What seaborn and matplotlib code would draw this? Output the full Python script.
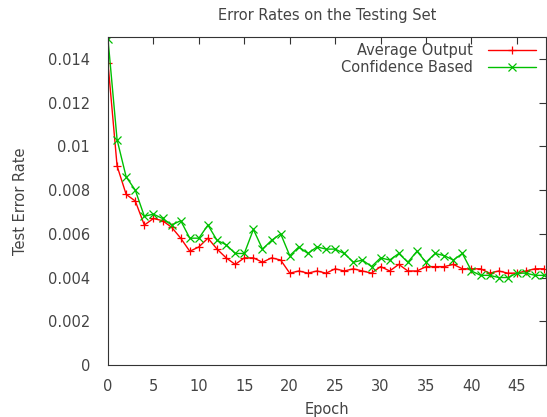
import matplotlib
matplotlib.use("Agg")
import matplotlib.pyplot as plt
import seaborn as sns
import pandas as pd
import numpy as np
from matplotlib.ticker import MultipleLocator, FuncFormatter
from matplotlib.lines import Line2D

epochs = list(range(49))
average_output = [0.0138, 0.0091, 0.0078, 0.0075, 0.0064, 0.0067, 0.0066, 0.0063, 0.0058, 0.0052,
                  0.0054, 0.0058, 0.0053, 0.0049, 0.0046, 0.0049, 0.0049, 0.0047, 0.0049, 0.0048,
                  0.0042, 0.0043, 0.0042, 0.0043, 0.0042, 0.0044, 0.0043, 0.0044, 0.0043, 0.0042,
                  0.0045, 0.0043, 0.0046, 0.0043, 0.0043, 0.0045, 0.0045, 0.0045, 0.0046, 0.0044,
                  0.0044, 0.0044, 0.0042, 0.0043, 0.0042, 0.0042, 0.0043, 0.0044, 0.0044]
confidence_based = [0.0149, 0.0103, 0.0086, 0.0080, 0.0068, 0.0069, 0.0067, 0.0064, 0.0066, 0.0058,
                    0.0058, 0.0064, 0.0057, 0.0055, 0.0051, 0.0051, 0.0062, 0.0053, 0.0057, 0.0060,
                    0.0050, 0.0054, 0.0051, 0.0054, 0.0053, 0.0053, 0.0051, 0.0047, 0.0048, 0.0045,
                    0.0049, 0.0048, 0.0051, 0.0047, 0.0052, 0.0047, 0.0051, 0.0050, 0.0048, 0.0051,
                    0.0043, 0.0041, 0.0041, 0.0040, 0.0040, 0.0042, 0.0042, 0.0041, 0.0041]
series_names = ["Average Output", "Confidence Based"]

df = pd.DataFrame({
    "Epoch": epochs * 2,
    "Test Error Rate": average_output + confidence_based,
    "Series": [series_names[0]] * len(epochs) + [series_names[1]] * len(epochs),
})

sns.set_style("white")
plt.rcParams['font.family'] = ['DejaVu Sans']

fig = plt.figure(figsize=(5.47, 4.17), dpi=100)
ax = fig.add_axes([108 / 547, 52 / 417, 438 / 547, 328 / 417])

colors = ["#ff0000", "#00c000"]
palette = dict(zip(series_names, colors))
sns.lineplot(data=df, x="Epoch", y="Test Error Rate", hue="Series", style="Series",
             palette=palette, markers={series_names[0]: "+", series_names[1]: "x"},
             dashes=False, linewidth=1, markersize=5.5, ax=ax, legend=False)
for line in ax.lines:
    line.set_markeredgecolor(line.get_color())
    line.set_markeredgewidth(0.9)

ax.set_xlim(0, 48.2)
ax.set_ylim(0, 0.015)
ax.xaxis.set_major_locator(MultipleLocator(5))
ax.yaxis.set_major_locator(MultipleLocator(0.002))
ax.yaxis.set_major_formatter(FuncFormatter(lambda v, p: "%g" % round(v, 6)))
ax.tick_params(direction="in", top=True, right=True, length=5, width=0.8,
               labelsize=10.5, colors="#333333", labelcolor="#444444")
ax.tick_params(axis="y", pad=13)
ax.tick_params(axis="x", pad=10)
for s in ax.spines.values():
    s.set_color("#333333")
    s.set_linewidth(0.8)

ax.set_xlabel("Epoch", fontsize=10.5, color="#444444", labelpad=6)
ax.set_ylabel("Test Error Rate", fontsize=10.5, color="#444444", labelpad=14)
ax.set_title("Error Rates on the Testing Set", fontsize=10.5, color="#444444", pad=12)

handles = [Line2D([], [], color=c, marker=m, markersize=5.5, markeredgewidth=0.9, linewidth=1)
           for c, m in zip(colors, ["+", "x"])]
leg = ax.legend(handles, series_names, loc="upper right", frameon=False, markerfirst=False,
                fontsize=10.5, handlelength=3.3, handletextpad=1.0, borderaxespad=0.0,
                labelspacing=0.15, bbox_to_anchor=(0.99, 1.0))
for t in leg.get_texts():
    t.set_color("#444444")

fig.savefig("out.png", dpi=100)
